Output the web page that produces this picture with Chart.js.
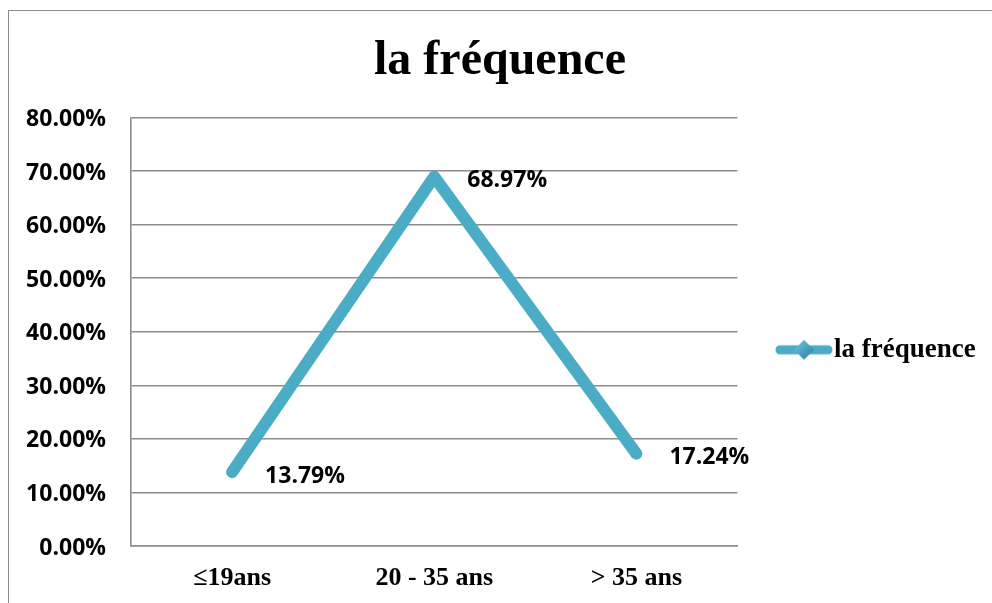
<!DOCTYPE html>
<html>
<head>
<meta charset="utf-8">
<script src="https://cdn.jsdelivr.net/npm/chart.js@4"></script>
<style>
  html, body { margin: 0; padding: 0; background: #fff; overflow: hidden; }
  #frame { position: absolute; left: 8px; top: 10px; width: 1100px; height: 700px; border: 1.5px solid #8c8c8c; }
  #myChart { position: absolute; left: 0; top: 0; }
</style>
</head>
<body>
<div id="frame"></div>
<canvas id="myChart" width="992" height="603"></canvas>
<script>
const categories = ['\u226419ans', '20 - 35 ans', '> 35 ans'];
const frequence = [13.79, 68.97, 17.24];
const yTicks = [0, 10, 20, 30, 40, 50, 60, 70, 80];

const lineColor = '#4BACC6';
const gridColor = '#8c8c8c';

// legend marker: line with a small diamond
const marker = document.createElement('canvas');
marker.width = 58;
marker.height = 22;
(function () {
    const m = marker.getContext('2d');
    m.strokeStyle = lineColor;
    m.lineWidth = 9;
    m.lineCap = 'round';
    m.beginPath();
    m.moveTo(5, 11);
    m.lineTo(53, 11);
    m.stroke();
    const g = m.createLinearGradient(19, 1, 39, 21);
    g.addColorStop(0, '#6cc9e4');
    g.addColorStop(1, '#2a7ea3');
    m.fillStyle = g;
    m.beginPath();
    m.moveTo(29, 1);
    m.lineTo(39, 11);
    m.lineTo(29, 21);
    m.lineTo(19, 11);
    m.closePath();
    m.fill();
})();

const valueLabels = {
    id: 'valueLabels',
    afterDatasetsDraw(chart) {
        const c = chart.ctx;
        const meta = chart.getDatasetMeta(0);
        c.save();
        c.font = 'bold 23px "Open Sans"';
        c.fillStyle = '#000';
        c.textAlign = 'left';
        c.textBaseline = 'middle';
        meta.data.forEach((pt, i) => {
            c.fillText(frequence[i].toFixed(2) + '%', pt.x + 33, pt.y + 4);
        });
        c.restore();
    }
};

const ctx = document.getElementById('myChart');

new Chart(ctx, {
    type: 'line',
    data: {
        labels: categories,
        datasets: [{
            label: 'la fr\u00e9quence',
            data: frequence,
            borderColor: lineColor,
            backgroundColor: lineColor,
            borderWidth: 12,
            borderCapStyle: 'round',
            borderJoinStyle: 'round',
            pointRadius: 0,
            pointHoverRadius: 0,
            pointStyle: marker,
            tension: 0,
            clip: false
        }]
    },
    options: {
        responsive: false,
        animation: false,
        devicePixelRatio: 1,
        layout: {
            padding: { left: 25, right: 17, top: 0, bottom: 0 }
        },
        plugins: {
            title: {
                display: true,
                text: 'la fr\u00e9quence',
                color: '#000',
                font: { family: '"Liberation Serif"', size: 48, weight: 'bold' },
                padding: { top: 33, bottom: 27 }
            },
            legend: {
                position: 'right',
                fullSize: false,
                title: {
                    display: true,
                    text: ' ',
                    font: { size: 10 },
                    padding: { top: 12, bottom: 12 }
                },
                labels: {
                    usePointStyle: true,
                    pointStyle: marker,
                    pointStyleWidth: 33,
                    padding: 50,
                    color: '#000',
                    font: { family: '"Liberation Serif"', size: 27, weight: 'bold' }
                }
            },
            tooltip: { enabled: false }
        },
        scales: {
            x: {
                offset: true,
                grid: { display: false, drawTicks: false },
                border: { display: true, color: gridColor, width: 1.6 },
                ticks: {
                    color: '#000',
                    padding: 17,
                    maxRotation: 0,
                    font: { family: '"Liberation Serif"', size: 26, weight: 'bold' }
                },
                afterFit(scale) { scale.height = 57; }
            },
            y: {
                min: 0,
                max: 80,
                afterBuildTicks(scale) { scale.ticks = yTicks.map(v => ({ value: v })); },
                grid: { color: gridColor, lineWidth: 1.6, drawTicks: false },
                border: { display: true, color: gridColor, width: 1.6 },
                ticks: {
                    color: '#000',
                    padding: 25,
                    labelOffset: 2,
                    font: { family: '"Open Sans"', size: 23, weight: 'bold' },
                    callback: v => v.toFixed(2) + '%'
                },
                afterFit(scale) { scale.width = 106; }
            }
        }
    },
    plugins: [valueLabels]
});
</script>
</body>
</html>
